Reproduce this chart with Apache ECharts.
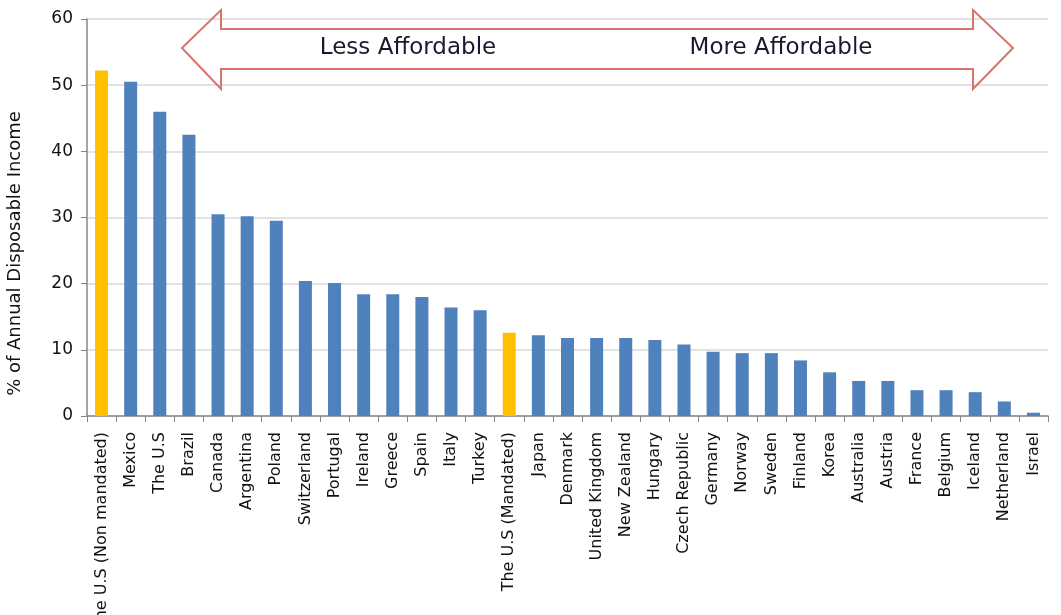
<!DOCTYPE html>
<html>
<head>
<meta charset="utf-8">
<script src="https://cdn.jsdelivr.net/npm/echarts@6/dist/echarts.min.js"></script>
<style>
  html, body { margin: 0; padding: 0; background: #fff; }
  #chart { width: 1061px; height: 615px; }
</style>
</head>
<body>
<div id="chart"></div>
<script>
// countries, most expensive first
const countries = [
  'The U.S (Non mandated)', 'Mexico', 'The U.S', 'Brazil', 'Canada', 'Argentina',
  'Poland', 'Switzerland', 'Portugal', 'Ireland', 'Greece', 'Spain', 'Italy',
  'Turkey', 'The U.S (Mandated)', 'Japan', 'Denmark', 'United Kingdom',
  'New Zealand', 'Hungary', 'Czech Republic', 'Germany', 'Norway', 'Sweden',
  'Finland', 'Korea', 'Australia', 'Austria', 'France', 'Belgium', 'Iceland',
  'Netherland', 'Israel'
]
// % of annual disposable income
const shares = [
  52.2, 50.5, 46.0, 42.5, 30.5, 30.2, 29.5, 20.4, 20.1, 18.4, 18.4, 18.0, 16.4,
  16.0, 12.6, 12.2, 11.8, 11.8, 11.8, 11.5, 10.8, 9.7, 9.5, 9.5, 8.4, 6.6, 5.3,
  5.3, 3.9, 3.9, 3.6, 2.2, 0.5
]
// the two U.S bars are highlighted
const highlighted = ['The U.S (Non mandated)', 'The U.S (Mandated)']
const yTicks = { min: 0, max: 60, step: 10 }

const chart = echarts.init(document.getElementById('chart'))
const font = 'DejaVu Sans'

const option = {
  animation: false,
  grid: { left: 87, right: 13, top: 19, bottom: 199, containLabel: false, outerBoundsMode: 'none' },
  xAxis: {
    type: 'category',
    data: countries,
    axisLine: { lineStyle: { color: '#868686', width: 1.5 } },
    axisTick: { show: true, length: 6, alignWithLabel: false, lineStyle: { color: '#868686' } },
    axisLabel: {
      interval: 0,
      rotate: 90,
      margin: 16,
      color: '#111',
      fontFamily: font,
      fontSize: 16
    }
  },
  yAxis: {
    type: 'value',
    min: yTicks.min,
    max: yTicks.max,
    interval: yTicks.step,
    name: '% of Annual Disposable Income',
    nameLocation: 'middle',
    nameRotate: 90,
    nameGap: 63,
    nameTextStyle: { fontFamily: font, fontSize: 18, color: '#111', padding: [0, 72, 0, 0] },
    axisLine: { show: true, lineStyle: { color: '#868686', width: 1.5 } },
    axisTick: { show: true, length: 6, lineStyle: { color: '#868686' } },
    axisLabel: { margin: 14, color: '#111', fontFamily: font, fontSize: 17 },
    splitLine: { lineStyle: { color: '#d9d9d9', width: 1.5 } }
  },
  series: [
    {
      type: 'bar',
      barWidth: 13,
      data: shares.map((v, i) => ({
        value: v,
        itemStyle: { color: highlighted.includes(countries[i]) ? '#FFC000' : '#4F81BD' }
      }))
    }
  ],
  graphic: [
    {
      // double-headed arrow banner
      type: 'polygon',
      z: 100,
      shape: {
        points: [
          [182, 48], [221, 10], [221, 29], [973, 29], [973, 10], [1013, 48],
          [973, 89], [973, 69], [221, 69], [221, 89]
        ]
      },
      style: { fill: 'rgba(255,255,255,0)', stroke: '#D9736F', lineWidth: 2 }
    },
    {
      type: 'text',
      z: 101,
      x: 408,
      y: 48,
      style: {
        text: 'Less Affordable',
        fill: '#1a1a2e',
        font: '23px "DejaVu Sans"',
        align: 'center',
        verticalAlign: 'middle'
      }
    },
    {
      type: 'text',
      z: 101,
      x: 781,
      y: 48,
      style: {
        text: 'More Affordable',
        fill: '#1a1a2e',
        font: '23px "DejaVu Sans"',
        align: 'center',
        verticalAlign: 'middle'
      }
    }
  ]
}
chart.setOption(option)
</script>
</body>
</html>
